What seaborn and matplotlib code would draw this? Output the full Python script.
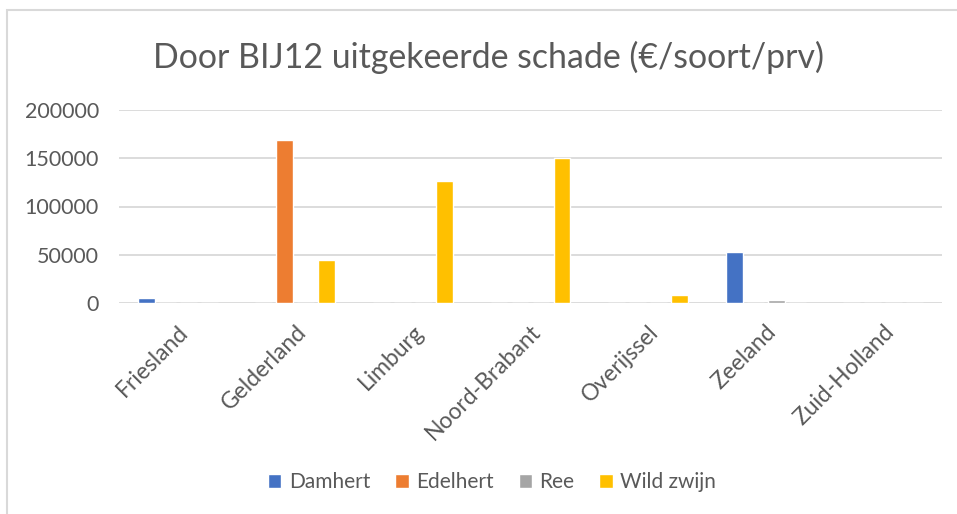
import matplotlib
matplotlib.use("Agg")
import matplotlib.pyplot as plt
import seaborn as sns
import pandas as pd
from matplotlib.patches import Rectangle

provinces = ['Friesland', 'Gelderland', 'Limburg', 'Noord-Brabant',
             'Overijssel', 'Zeeland', 'Zuid-Holland']
species = ['Damhert', 'Edelhert', 'Ree', 'Wild zwijn']
damhert = [4800, 0, 0, 0, 0, 53300, 0]
edelhert = [0, 169000, 0, 0, 0, 0, 0]
ree = [0, 0, 0, 0, 0, 3400, 0]
wild_zwijn = [0, 44500, 126500, 150500, 8600, 0, 0]
colors = ['#4472C4', '#ED7D31', '#A5A5A5', '#FFC000']
yticks = [0, 50000, 100000, 150000, 200000]

rows = []
for sp, vals in zip(species, [damhert, edelhert, ree, wild_zwijn]):
    for prov, v in zip(provinces, vals):
        rows.append((prov, sp, v))
df = pd.DataFrame(rows, columns=['Provincie', 'Soort', 'Schade'])

sns.set_style("white")
plt.rcParams['font.family'] = ['Lato', 'DejaVu Sans']
grey = '#595959'

fig = plt.figure(figsize=(9.57, 5.14), dpi=100)
ax = fig.add_axes([119 / 957, 1 - 303 / 514, 823 / 957, 193 / 514])

sns.barplot(df, x='Provincie', y='Schade', hue='Soort', palette=colors,
            width=0.714, gap=0.2, ax=ax, saturation=1, legend=True)

ax.set_ylim(0, 200000)
ax.set_yticks(yticks)
ax.set_yticklabels([str(t) for t in yticks])
ax.set_xlim(-0.5, len(provinces) - 0.5)
ax.grid(axis='y', color='#D9D9D9', linewidth=1.3)
ax.set_axisbelow(True)
for s in ax.spines.values():
    s.set_visible(False)
ax.tick_params(axis='both', length=0, colors=grey)
ax.tick_params(axis='y', pad=14.5, labelsize=15.5)
ax.tick_params(axis='x', pad=13, labelsize=16.5)
ax.set_xlabel('')
ax.set_ylabel('')
for lbl in ax.get_xticklabels():
    lbl.set_rotation(45)
    lbl.set_ha('right')
    lbl.set_rotation_mode('anchor')

fig.text(488 / 957, 1 - 57 / 514, 'Door BIJ12 uitgekeerde schade (€/soort/prv)',
         ha='center', va='center', fontsize=24.4, color=grey)

handles, labels = ax.get_legend_handles_labels()
ax.get_legend().remove()
fig.legend(handles, labels, loc='center', bbox_to_anchor=(492 / 957, 1 - 482 / 514),
           ncol=4, frameon=False, fontsize=15, labelcolor=grey,
           handlelength=0.65, handleheight=0.65, handletextpad=0.35, columnspacing=1.2)

fig.patches.append(Rectangle((7 / 957, -0.1), 1.2, 1 - 10 / 514 + 0.1,
                             transform=fig.transFigure, fill=False,
                             edgecolor='#D9D9D9', linewidth=1.5))

fig.savefig('out.png', dpi=100)
